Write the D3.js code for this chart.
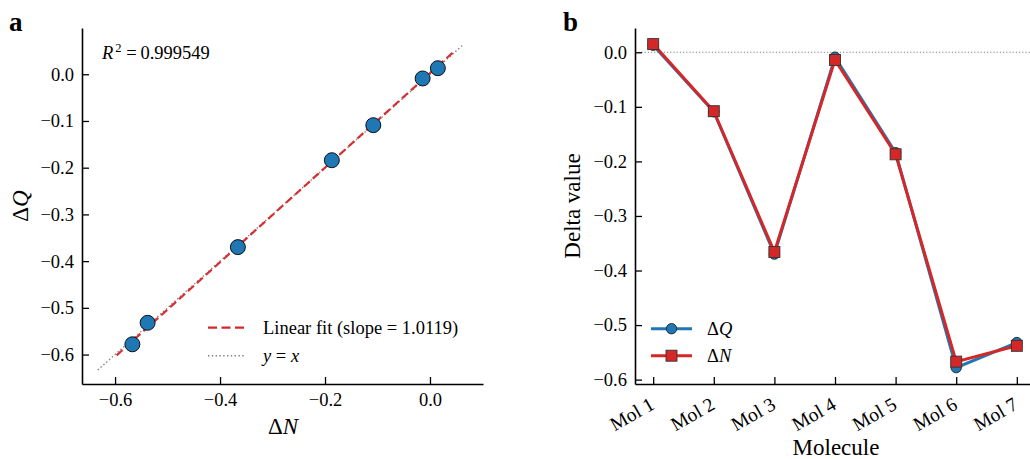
<!DOCTYPE html>
<html><head><meta charset="utf-8">
<script src="https://cdn.jsdelivr.net/npm/d3@7"></script>
<style>
body{margin:0;background:#fff;}
svg, svg text{font-family:"Liberation Serif","Times New Roman",serif;}
</style></head>
<body><svg id="chart" width="1030" height="459"></svg>
<script>
const molecules = ["Mol 1","Mol 2","Mol 3","Mol 4","Mol 5","Mol 6","Mol 7"];
const deltaQ = [0.013, -0.109, -0.370, -0.009, -0.184, -0.578, -0.532];
const deltaN = [0.015, -0.108, -0.366, -0.014, -0.187, -0.567, -0.538];
const ticksA = [-0.6, -0.4, -0.2, 0.0];
const ticksAy = [-0.6, -0.5, -0.4, -0.3, -0.2, -0.1, 0.0];
const ticksB = [-0.6, -0.5, -0.4, -0.3, -0.2, -0.1, 0.0];
const slopeText = "1.0119";
const r2Text = "0.999549";

const blue = "#1f77b4", red = "#d62728";
const svg = d3.select("#chart");
const fmt = d3.format(".1f");
const tickFont = 18.5;
const FF = "Liberation Serif, serif";

function styleAxis(g){
  g.attr("font-family", FF);
  g.select(".domain").attr("stroke","#000").attr("stroke-width",1.6);
  g.selectAll(".tick line").attr("stroke","#000").attr("stroke-width",1.3);
  g.selectAll(".tick text").attr("font-size",tickFont).attr("fill","#000");
}

// ---------- Panel a ----------
const xa = d3.scaleLinear().domain([-0.663, 0.101]).range([82, 483]);
const ya = d3.scaleLinear().domain([-0.663, 0.099]).range([384, 28]);

const ga = svg.append("g");
ga.append("g").attr("transform","translate(0,384)")
  .call(d3.axisBottom(xa).tickValues(ticksA).tickFormat(fmt).tickSize(-7).tickPadding(9).tickSizeOuter(0))
  .call(styleAxis);
ga.append("g").attr("transform","translate(82,0)")
  .call(d3.axisLeft(ya).tickValues(ticksAy).tickFormat(fmt).tickSize(-7).tickPadding(8).tickSizeOuter(0))
  .call(styleAxis);

// fit computed from the data
const mN = d3.mean(deltaN), mQ = d3.mean(deltaQ);
const slope = +slopeText;
const icpt = mQ - slope*mN;
const nMin = d3.min(deltaN), nMax = d3.max(deltaN);

// y = x line
ga.append("line")
  .attr("x1", xa(-0.633)).attr("y1", ya(-0.633))
  .attr("x2", xa(0.064)).attr("y2", ya(0.064))
  .attr("stroke","#808080").attr("stroke-width",1.4).attr("stroke-dasharray","1.4,2.4");
// fit line
const f0 = nMin - 0.03, f1 = nMax + 0.03;
ga.append("line")
  .attr("x1", xa(f0)).attr("y1", ya(slope*f0+icpt))
  .attr("x2", xa(f1)).attr("y2", ya(slope*f1+icpt))
  .attr("stroke",red).attr("stroke-width",2.2).attr("stroke-dasharray","8,4").attr("opacity",0.95);

ga.selectAll("circle.pt").data(deltaN.map((n,i)=>[n,deltaQ[i]])).join("circle")
  .attr("class","pt")
  .attr("cx",d=>xa(d[0])).attr("cy",d=>ya(d[1])).attr("r",7.5)
  .attr("fill",blue).attr("stroke","#000").attr("stroke-width",0.9);

// R2 text
const r2 = ga.append("text").attr("x",102).attr("y",59).attr("font-size",tickFont);
r2.append("tspan").attr("font-style","italic").text("R");
r2.append("tspan").attr("font-size",12.5).attr("dy",-7).attr("dx",2).text("2");
r2.append("tspan").attr("dy",7).attr("dx",1).text("\u2009=\u2009" + r2Text);

// legend a
ga.append("line").attr("x1",208).attr("x2",245).attr("y1",327.7).attr("y2",327.7)
  .attr("stroke",red).attr("stroke-width",2.2).attr("stroke-dasharray","9,4.5");
ga.append("line").attr("x1",208).attr("x2",245).attr("y1",355.7).attr("y2",355.7)
  .attr("stroke","#808080").attr("stroke-width",1.4).attr("stroke-dasharray","1.4,2.4");
ga.append("text").attr("x",263).attr("y",334).attr("font-size",tickFont)
  .text("Linear fit (slope = " + slopeText + ")");
const yx = ga.append("text").attr("x",263).attr("y",362).attr("font-size",tickFont);
yx.append("tspan").attr("font-style","italic").text("y");
yx.append("tspan").text(" = ");
yx.append("tspan").attr("font-style","italic").text("x");

// axis labels a
const xl = ga.append("text").attr("x",283).attr("y",434).attr("text-anchor","middle").attr("font-size",23);
xl.append("tspan").text("\u0394");
xl.append("tspan").attr("font-style","italic").text("N");
const yl = ga.append("text").attr("transform","translate(28,206) rotate(-90)").attr("text-anchor","middle").attr("font-size",23);
yl.append("tspan").text("\u0394");
yl.append("tspan").attr("font-style","italic").text("Q");

svg.append("text").attr("x",9).attr("y",31).attr("font-size",27).attr("font-weight","bold").text("a");

// ---------- Panel b ----------
const xb = d3.scaleLinear().domain([-0.3, 6.3]).range([635, 1035]);
const yb = d3.scaleLinear().domain([-0.608, 0.0445]).range([384, 28]);
const gb = svg.append("g");

gb.append("line").attr("x1",635).attr("x2",1035).attr("y1",yb(0)).attr("y2",yb(0))
  .attr("stroke","#808080").attr("stroke-width",1).attr("stroke-dasharray","1.2,2");

const xAxisB = gb.append("g").attr("transform","translate(0,384)")
  .call(d3.axisBottom(xb).tickValues(d3.range(molecules.length)).tickFormat(i=>molecules[i])
        .tickSize(-7).tickPadding(6).tickSizeOuter(0))
  .call(styleAxis);
xAxisB.selectAll(".tick text")
  .attr("text-anchor","end").attr("dy",0).attr("y",0).attr("font-size",19.5)
  .attr("transform","translate(2,24) rotate(-30)");
gb.append("g").attr("transform","translate(635,0)")
  .call(d3.axisLeft(yb).tickValues(ticksB).tickFormat(fmt).tickSize(-7).tickPadding(8).tickSizeOuter(0))
  .call(styleAxis);

const line = d3.line().x((d,i)=>xb(i)).y(d=>yb(d));
gb.append("path").datum(deltaQ).attr("d",line).attr("fill","none").attr("stroke",blue).attr("stroke-width",3);
gb.selectAll("circle.q").data(deltaQ).join("circle").attr("class","q")
  .attr("cx",(d,i)=>xb(i)).attr("cy",d=>yb(d)).attr("r",5.2)
  .attr("fill",blue).attr("stroke","#222").attr("stroke-width",0.9);
gb.append("path").datum(deltaN).attr("d",line).attr("fill","none").attr("stroke",red).attr("stroke-width",3);
gb.selectAll("rect.n").data(deltaN).join("rect").attr("class","n")
  .attr("x",(d,i)=>xb(i)-5.5).attr("y",d=>yb(d)-5.5).attr("width",11).attr("height",11)
  .attr("fill",red).attr("stroke","#333").attr("stroke-width",0.9);

// legend b
gb.append("line").attr("x1",651).attr("x2",692).attr("y1",328.7).attr("y2",328.7).attr("stroke",blue).attr("stroke-width",3);
gb.append("circle").attr("cx",671.5).attr("cy",328.7).attr("r",5.2).attr("fill",blue).attr("stroke","#222").attr("stroke-width",0.9);
gb.append("line").attr("x1",651).attr("x2",692).attr("y1",355.7).attr("y2",355.7).attr("stroke",red).attr("stroke-width",3);
gb.append("rect").attr("x",671.5-5.5).attr("y",355.7-5.5).attr("width",11).attr("height",11).attr("fill",red).attr("stroke","#333").attr("stroke-width",0.9);
const lq = gb.append("text").attr("x",707).attr("y",335).attr("font-size",tickFont);
lq.append("tspan").text("\u0394"); lq.append("tspan").attr("font-style","italic").text("Q");
const ln = gb.append("text").attr("x",707).attr("y",362).attr("font-size",tickFont);
ln.append("tspan").text("\u0394"); ln.append("tspan").attr("font-style","italic").text("N");

gb.append("text").attr("x",836).attr("y",455).attr("text-anchor","middle").attr("font-size",23).text("Molecule");
gb.append("text").attr("transform","translate(580,206) rotate(-90)").attr("text-anchor","middle").attr("font-size",23).text("Delta value");

svg.append("text").attr("x",563).attr("y",31).attr("font-size",27).attr("font-weight","bold").text("b");

svg.selectAll("text").attr("font-family", FF);
</script></body></html>
